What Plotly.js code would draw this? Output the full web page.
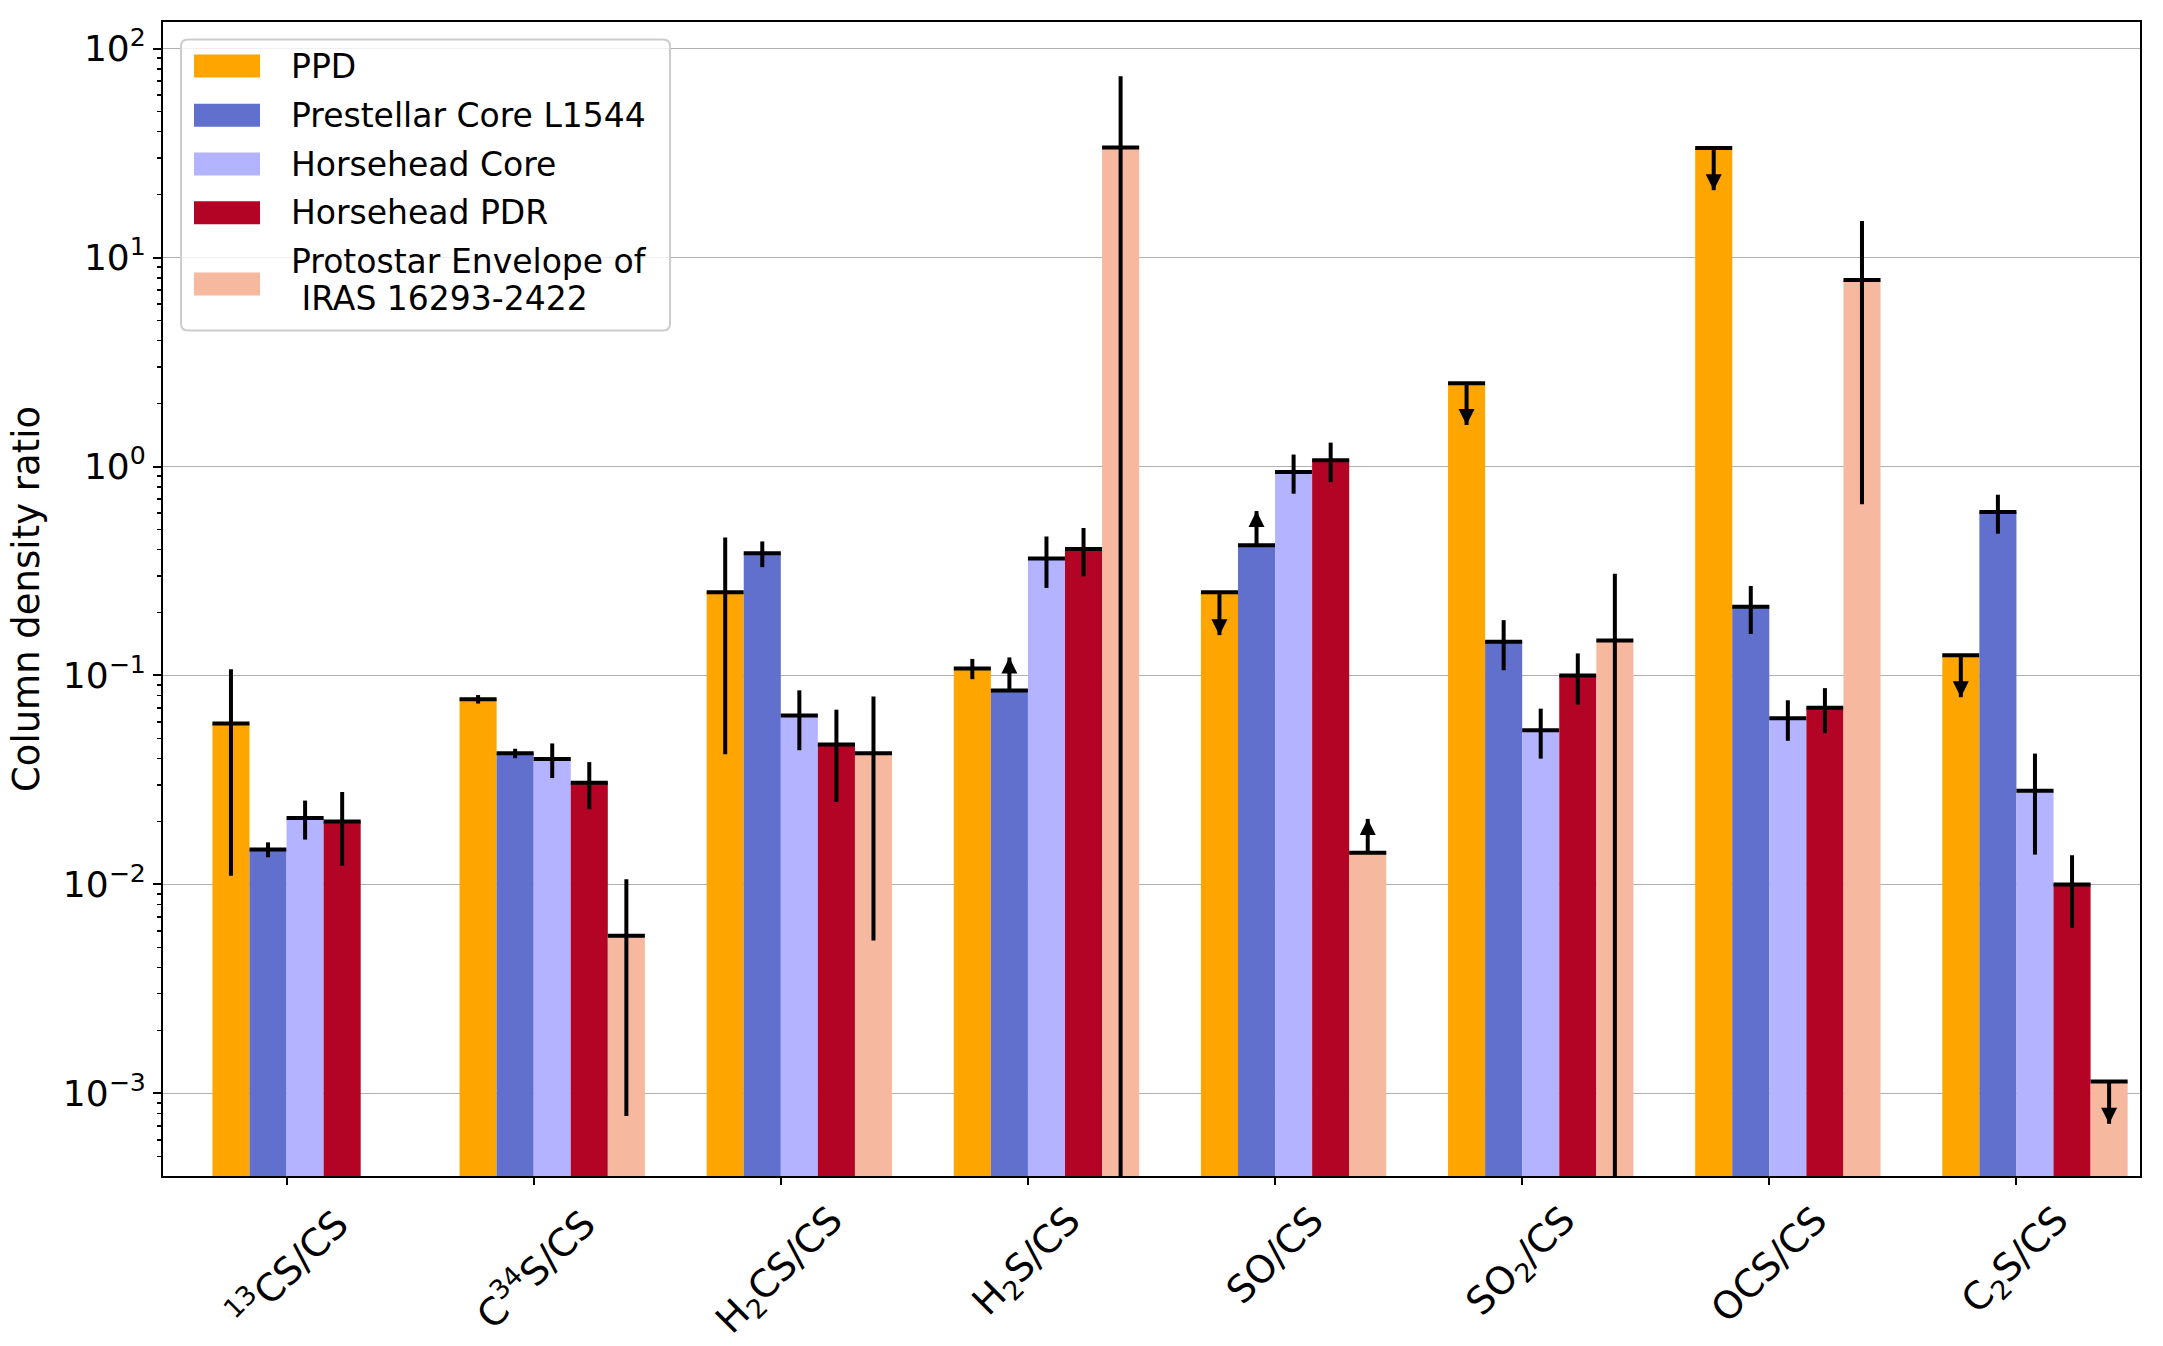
<!DOCTYPE html>
<html>
<head>
<meta charset="utf-8">
<script src="https://cdn.plot.ly/plotly-3.0.1.min.js"></script>
<style>
  html, body { margin: 0; padding: 0; background: #ffffff; }
  #chart { width: 2163px; height: 1346px; }
</style>
</head>
<body>
<div id="chart"></div>
<script>
// Column density ratios relative to CS, per source
const categories = [
  '<sup>13</sup>CS/CS', 'C<sup>34</sup>S/CS', 'H<sub>2</sub>CS/CS', 'H<sub>2</sub>S/CS',
  'SO/CS', 'SO<sub>2</sub>/CS', 'OCS/CS', 'C<sub>2</sub>S/CS'
];

const seriesNames = [
  'PPD',
  'Prestellar Core L1544',
  'Horsehead Core',
  'Horsehead PDR',
  'Protostar Envelope of\n IRAS 16293-2422'
];

// values, symmetric errors, and limit-arrow end points (null where not a limit)
const ppdValues      = [0.059, 0.077, 0.25, 0.108, 0.25, 2.5, 33.4, 0.125];
const ppdErrors      = [0.048, 0.0036, 0.208, 0.012, null, null, null, null];
const ppdLimitTips   = [null, null, null, null, 0.156, 1.58, 21.0, 0.0787];

const l1544Values    = [0.0147, 0.0424, 0.384, 0.0847, 0.42, 0.145, 0.213, 0.605];
const l1544Errors    = [0.0012, 0.0022, 0.054, null, null, 0.039, 0.055, 0.128];
const l1544LimitTips = [null, null, null, 0.122, 0.612, null, null, null];

const hhCoreValues   = [0.0208, 0.0398, 0.0644, 0.3625, 0.941, 0.0547, 0.0624, 0.0281];
const hhCoreErrors   = [0.0044, 0.0075, 0.0205, 0.1, 0.2, 0.0147, 0.0137, 0.0142];
const hhCoreLimitTips = [null, null, null, null, null, null, null, null];

const hhPdrValues    = [0.0200, 0.0307, 0.0467, 0.403, 1.071, 0.100, 0.070, 0.0100];
const hhPdrErrors    = [0.0077, 0.0078, 0.0219, 0.105, 0.23, 0.0275, 0.017, 0.0038];
const hhPdrLimitTips = [null, null, null, null, null, null, null, null];

const protoValues    = [null, 0.00568, 0.0424, 33.6, 0.0142, 0.147, 7.81, 0.00114];
const protoErrors    = [null, 0.0049, 0.037, 40, null, 0.16, 7.15, null];
const protoLimitTips = [null, null, null, null, 0.0206, null, null, 0.000716];

const yTickVals  = [1e-3, 1e-2, 1e-1, 1e0, 1e1, 1e2];
const yTickText  = ['10<sup>\u22123</sup>', '10<sup>\u22122</sup>', '10<sup>\u22121</sup>',
                    '10<sup>0</sup>', '10<sup>1</sup>', '10<sup>2</sup>'];

// ---- styling ----
const colors = ['#FFA500', '#6170CC', '#B3B3FF', '#B40426', '#F6B89E'];
const FONT = 'DejaVu Sans, Liberation Sans, sans-serif';
const BAR_W = 0.15;
const LINE_W = 4;

const series = [
  { v: ppdValues,    e: ppdErrors,    lim: ppdLimitTips },
  { v: l1544Values,  e: l1544Errors,  lim: l1544LimitTips },
  { v: hhCoreValues, e: hhCoreErrors, lim: hhCoreLimitTips },
  { v: hhPdrValues,  e: hhPdrErrors,  lim: hhPdrLimitTips },
  { v: protoValues,  e: protoErrors,  lim: protoLimitTips }
];

const xIndex = categories.map((_, i) => i);
const traces = [];

series.forEach((s, k) => {
  const offset = -2 * BAR_W + k * BAR_W;
  traces.push({
    type: 'bar',
    name: seriesNames[k].replace('\n', ''),
    x: xIndex,
    y: s.v,
    width: BAR_W,
    offset: offset,
    marker: { color: colors[k], line: { width: 0 } },
    error_y: { type: 'data', array: s.e, color: '#000000', thickness: LINE_W, width: 0, visible: true },
    error_x: { type: 'constant', value: BAR_W / 2, color: '#000000', thickness: LINE_W, width: 0, visible: true },
    showlegend: false,
    hoverinfo: 'x+y'
  });
});

// limit arrows (upper limits point down, lower limits point up)
series.forEach((s, k) => {
  const xc = -2 * BAR_W + k * BAR_W + BAR_W / 2;
  const lx = [], ly = [], mx = [], my = [], sym = [];
  s.lim.forEach((tip, i) => {
    if (tip === null || s.v[i] === null) return;
    lx.push(i + xc, i + xc, null);
    ly.push(s.v[i], tip, null);
    mx.push(i + xc);
    my.push(tip);
    sym.push(tip < s.v[i] ? 'arrow-down' : 'arrow-up');
  });
  if (!mx.length) return;
  traces.push({
    type: 'scatter', mode: 'lines', x: lx, y: ly,
    line: { color: '#000000', width: LINE_W }, showlegend: false, hoverinfo: 'skip'
  });
  traces.push({
    type: 'scatter', mode: 'markers', x: mx, y: my,
    marker: { symbol: sym, size: 16, color: '#000000', line: { width: 0 } },
    showlegend: false, hoverinfo: 'skip'
  });
});

// minor ticks at 2..9 x 10^n
const minorVals = [];
for (let p = -4; p <= 2; p++) {
  for (let m = 2; m <= 9; m++) minorVals.push(m * Math.pow(10, p));
}

// category labels under the axis, rotated 45 degrees and centred on each tick
const annotations = categories.map((c, i) => ({
  xref: 'x', yref: 'paper', x: i, y: 0,
  xanchor: 'center', yanchor: 'top', yshift: -19,
  text: c, textangle: -45, showarrow: false,
  font: { family: FONT, size: 38, color: '#000000' }
}));

// legend panel (pixel offsets from the top-left corner of the plot area)
const LEG = { x0: 18, x1: 507, y0: 17.6, y1: 308.6, r: 7,
              px0: 31, px1: 97, ph: 23, tx: 126,
              rows: [44.1, 93.3, 142.0, 190.8, 262.1], lines: [239.8, 276.8] };

const shapes = [];
{
  const { x0, x1, y0, y1, r } = LEG;
  const Y = v => -v;
  const path = `M${x0 + r},${Y(y0)} H${x1 - r} Q${x1},${Y(y0)} ${x1},${Y(y0 + r)} ` +
               `V${Y(y1 - r)} Q${x1},${Y(y1)} ${x1 - r},${Y(y1)} H${x0 + r} ` +
               `Q${x0},${Y(y1)} ${x0},${Y(y1 - r)} V${Y(y0 + r)} Q${x0},${Y(y0)} ${x0 + r},${Y(y0)} Z`;
  shapes.push({
    type: 'path', xref: 'paper', yref: 'paper', xsizemode: 'pixel', ysizemode: 'pixel',
    xanchor: 0, yanchor: 1, path: path,
    fillcolor: 'rgba(255,255,255,0.8)', line: { color: '#cccccc', width: 2 }
  });
}
seriesNames.forEach((name, k) => {
  const cy = LEG.rows[k];
  shapes.push({
    type: 'rect', xref: 'paper', yref: 'paper', xsizemode: 'pixel', ysizemode: 'pixel',
    xanchor: 0, yanchor: 1,
    x0: LEG.px0, x1: LEG.px1, y0: -(cy - LEG.ph / 2), y1: -(cy + LEG.ph / 2),
    fillcolor: colors[k], line: { width: 0 }
  });
  const parts = name.split('\n');
  parts.forEach((line, j) => {
    const yy = parts.length > 1 ? LEG.lines[j] : cy;
    annotations.push({
      xref: 'paper', yref: 'paper', x: 0, y: 1, xanchor: 'left', yanchor: 'middle',
      xshift: LEG.tx, yshift: -yy, showarrow: false, align: 'left',
      text: line.replace(/^ /, '\u00a0'),
      font: { family: FONT, size: 33, color: '#000000' }
    });
  });
});

const layout = {
  width: 2163, height: 1346,
  margin: { l: 163, r: 23, t: 22, b: 170 },
  paper_bgcolor: '#ffffff', plot_bgcolor: '#ffffff',
  barmode: 'overlay',
  font: { family: FONT, color: '#000000' },
  xaxis: {
    type: 'linear', range: [-0.5, 7.5],
    tickmode: 'array', tickvals: xIndex, showticklabels: false,
    ticks: 'outside', ticklen: 7, tickwidth: 2, tickcolor: '#000000',
    showgrid: false, zeroline: false,
    showline: true, mirror: true, linecolor: '#000000', linewidth: 2
  },
  yaxis: {
    type: 'log', range: [-3.395, 2.127],
    tickmode: 'array', tickvals: yTickVals, ticktext: yTickText,
    tickfont: { family: FONT, size: 36, color: '#000000' },
    ticks: 'outside', ticklen: 8, tickwidth: 2, tickcolor: '#000000',
    minor: { tickmode: 'array', tickvals: minorVals, ticks: 'outside', ticklen: 4,
             tickwidth: 1.5, tickcolor: '#000000', showgrid: false },
    showgrid: true, gridcolor: '#b0b0b0', gridwidth: 1.3,
    zeroline: false,
    showline: true, mirror: true, linecolor: '#000000', linewidth: 2,
    title: { text: 'Column density ratio', font: { family: FONT, size: 37, color: '#000000' }, standoff: 12 }
  },
  shapes: shapes,
  annotations: annotations
};

Plotly.newPlot('chart', traces, layout, { displayModeBar: false, staticPlot: true });
</script>
</body>
</html>
